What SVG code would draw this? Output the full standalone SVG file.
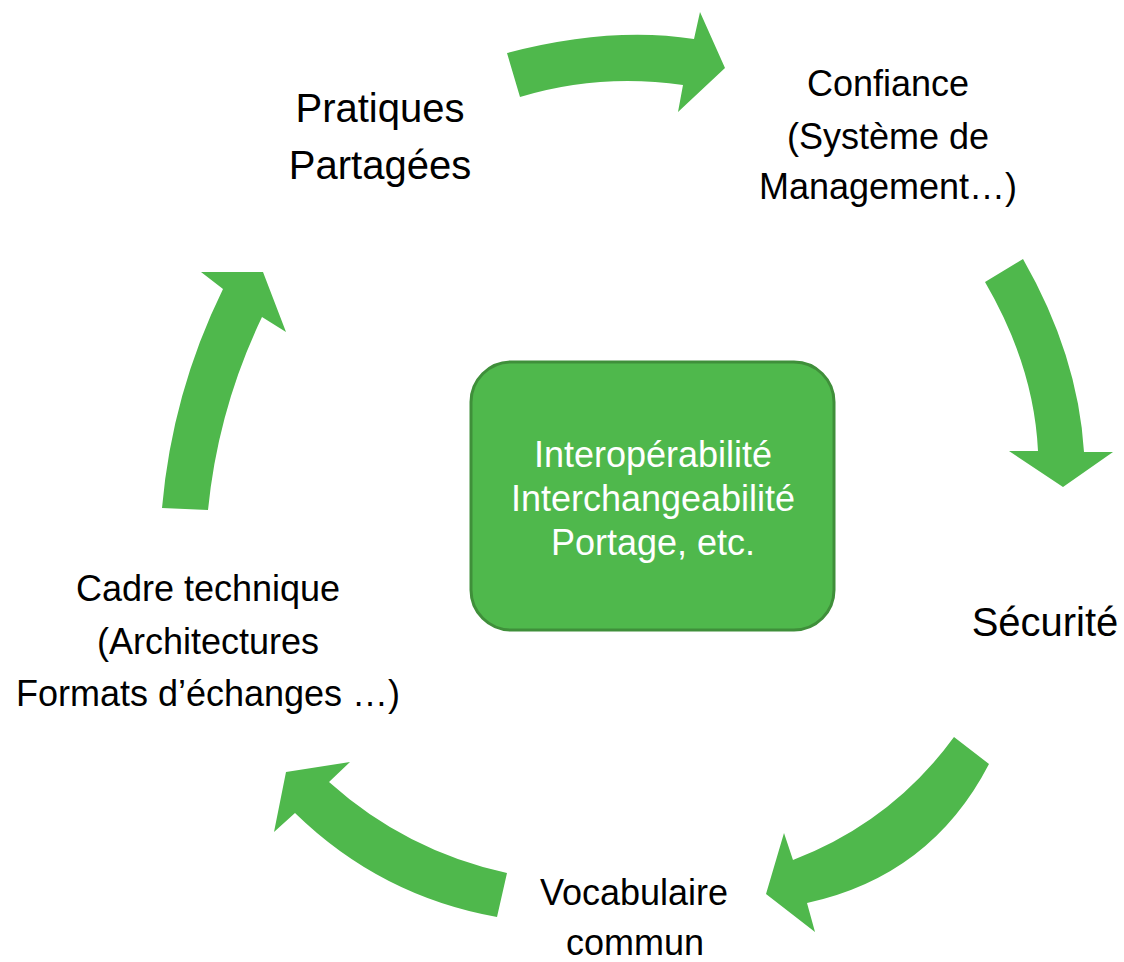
<svg xmlns="http://www.w3.org/2000/svg" width="1124" height="962" viewBox="0 0 1124 962">
<style>
.arr{fill:#4fb84c;stroke:none}
.lbl{font-family:"Liberation Sans",Arial,sans-serif;fill:#000;text-anchor:middle}
.s36{font-size:36px}
.s40{font-size:40px}
.ctr{font-family:"Liberation Sans",Arial,sans-serif;fill:#fff;text-anchor:middle;font-size:36px}
</style>
<rect width="1124" height="962" fill="#fff"/>
<g id="connectors">
<path class="arr" d="M507,53 Q610,26 694,39 L700,12 L725,68 L678,112 L683,85 Q599,73 520,97 Z"/>
<path class="arr" d="M1023,259 Q1078,355 1084,452 L1113,452 L1063,487 L1009,451 L1038,451 Q1034,366 985,282 Z"/>
<path class="arr" d="M989,764 Q931,876 807,903 L815,932 L766,894 L784,833 L793,860 Q892,822 954,737 Z"/>
<path class="arr" d="M507,873 Q406,851 329,782 L350,762 L286,772 L274,832 L295,813 Q380,896 497,917 Z"/>
<path class="arr" d="M162,508 Q172,393 223,289 L201,272 L263,272 L286,332 L262,317 Q218,409 208,510 Z"/>
</g>
<g id="center">
<rect x="471" y="362" width="363" height="268" rx="40" ry="40" fill="#4fb84c" stroke="#3f8f3a" stroke-width="3"/>
<text class="ctr" x="653" y="467">Interopérabilité</text>
<text class="ctr" x="653" y="511">Interchangeabilité</text>
<text class="ctr" x="653" y="555">Portage, etc.</text>
</g>
<g id="pratiques">
<text class="lbl s40" x="380" y="122">Pratiques</text>
<text class="lbl s40" x="380" y="179">Partagées</text>
</g>
<g id="confiance">
<text class="lbl s36" x="888" y="96">Confiance</text>
<text class="lbl s36" x="888" y="149">(Système de</text>
<text class="lbl s36" x="888" y="199">Management…)</text>
</g>
<g id="securite">
<text class="lbl s40" x="1045" y="636">Sécurité</text>
</g>
<g id="vocabulaire">
<text class="lbl s36" x="634" y="905">Vocabulaire</text>
<text class="lbl s36" x="635" y="955">commun</text>
</g>
<g id="cadre">
<text class="lbl s36" x="208" y="601">Cadre technique</text>
<text class="lbl s36" x="208" y="654">(Architectures</text>
<text class="lbl s36" x="208" y="706">Formats d’échanges …)</text>
</g>
</svg>
